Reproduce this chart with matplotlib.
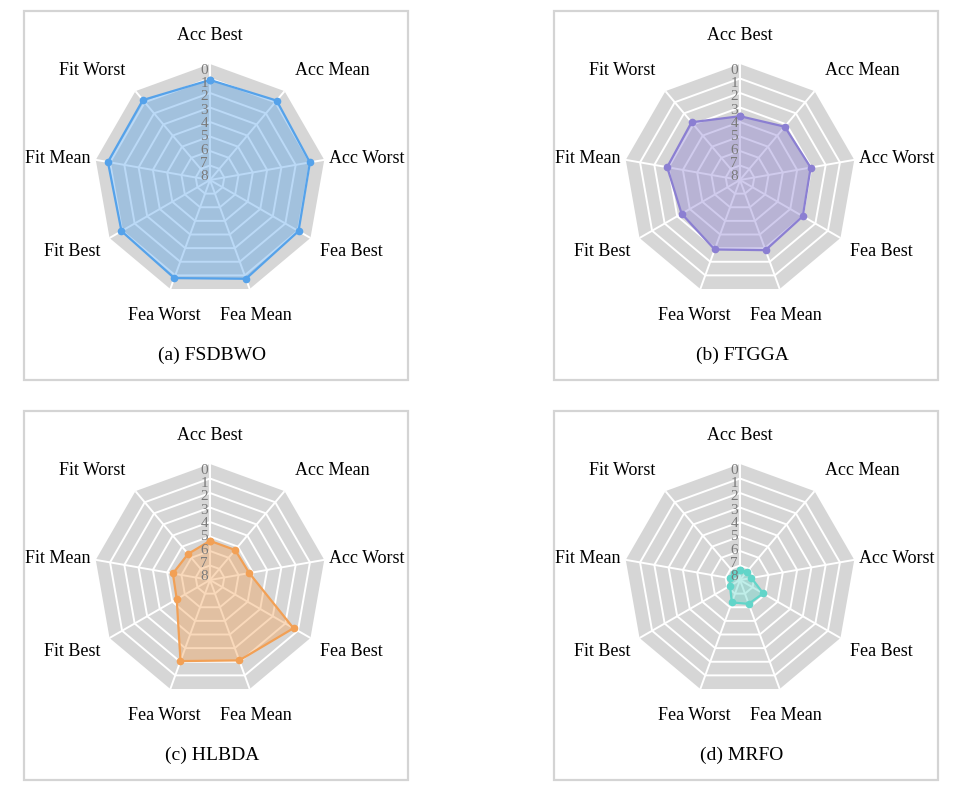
import numpy as np
import matplotlib
matplotlib.use("Agg")
import matplotlib.pyplot as plt
from matplotlib.patches import Rectangle

plt.rcParams['font.family'] = ['Liberation Serif', 'DejaVu Serif']

categories = ["Acc Best", "Acc Mean", "Acc Worst", "Fea Best", "Fea Mean",
              "Fea Worst", "Fit Best", "Fit Mean", "Fit Worst"]
ticks = list(range(9))

fsdbwo = [1.1, 0.85, 1.0, 0.95, 0.75, 0.8, 0.95, 0.85, 0.8]
ftgga = [3.6, 3.2, 3.05, 3.0, 2.85, 2.9, 3.35, 2.9, 2.8]
hlbda = [5.3, 5.3, 5.25, 1.35, 2.1, 2.05, 5.35, 5.4, 5.65]
mrfo = [7.3, 7.25, 7.2, 6.15, 6.25, 6.35, 7.2, 7.3, 7.35]

titles = ["(a) FSDBWO", "(b) FTGGA", "(c) HLBDA", "(d) MRFO"]
series = [fsdbwo, ftgga, hlbda, mrfo]
colors = ["#55a2ea", "#8b7fd2", "#f2a055", "#62d5c9"]

W, H = 955, 793
R = 116
centers = [(210, 180), (740, 180), (210, 580), (740, 580)]

fig = plt.figure(figsize=(W / 100, H / 100), dpi=100)

theta = np.linspace(0, 2 * np.pi, len(categories), endpoint=False)
theta_c = np.append(theta, theta[0])
px = 72 / 100  # pixels -> points

for (cx, cy), title, vals, col in zip(centers, titles, series, colors):
    # panel frame and caption
    fig.add_artist(Rectangle(((cx - 186) / W, 1 - (cy + 200) / H), 384 / W, 369 / H,
                             transform=fig.transFigure, fill=False,
                             ec="#d4d4d4", lw=1.6))
    fig.text((cx + 2) / W, 1 - (cy + 175) / H, title, ha='center', va='center',
             fontsize=14)

    ax = fig.add_axes([(cx - R) / W, 1 - (cy + R) / H, 2 * R / W, 2 * R / H],
                      projection='polar')
    ax.set_theta_zero_location('N')
    ax.set_theta_direction(-1)
    ax.set_ylim(ticks[-1], ticks[0])
    ax.axis('off')

    # polygon web
    ax.fill(theta_c, [ticks[0]] * len(theta_c), color="#d6d6d6", lw=0, zorder=0)
    for t in ticks[1:]:
        ax.plot(theta_c, [t] * len(theta_c), color="white", lw=1.4, zorder=1)
    for th in theta:
        ax.plot([th, th], [ticks[0], ticks[-1]], color="white", lw=1.4, zorder=1)

    # series
    v = vals + vals[:1]
    ax.fill(theta_c, v, color=col, alpha=0.4, lw=0, zorder=2)
    ax.plot(theta_c, v, color=col, lw=1.6, marker='o', ms=4.5, zorder=3)

    # radial tick labels
    for t in ticks:
        ax.annotate(str(t), xy=(0, t), xytext=(-2 * px, -(6.5 - 1.25 * t) * px),
                    textcoords='offset points', ha='right', va='center',
                    fontsize=11, color="#7a7a7a", annotation_clip=False, zorder=4)

    # category labels
    for th, name in zip(theta, categories):
        s, c = np.sin(th), np.cos(th)
        ha = 'left' if s > 0.4 else ('right' if s < -0.4 else 'center')
        va = 'bottom' if c > 0.45 else ('top' if c < -0.45 else 'center')
        d = 2 + 18 * abs(c)
        ax.annotate(name, xy=(th, ticks[0]), xytext=(d * s * px, d * c * px),
                    textcoords='offset points', ha=ha, va=va, fontsize=13,
                    annotation_clip=False)

fig.savefig("out.png", dpi=100)
